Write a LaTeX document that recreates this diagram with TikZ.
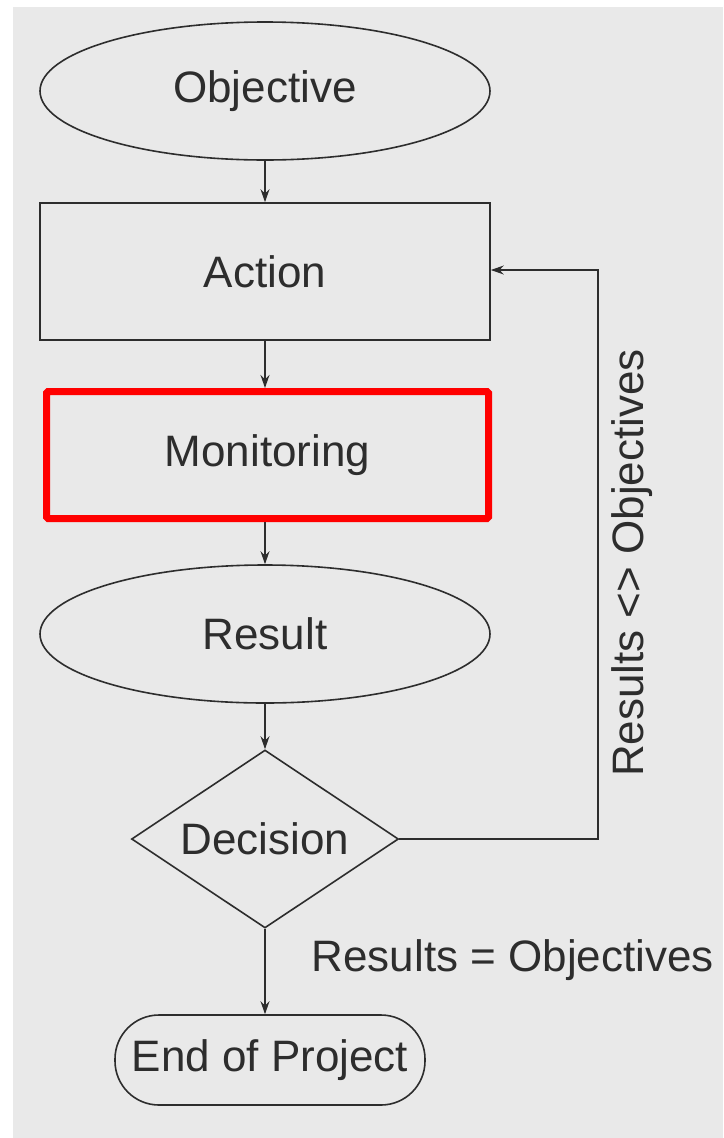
\documentclass[tikz,border=0pt]{standalone}
\usepackage{fontspec}
\setmainfont{Liberation Sans}
\usetikzlibrary{shapes.geometric,arrows.meta}
\definecolor{bggray}{RGB}{233,233,233}
\definecolor{ink}{RGB}{45,45,45}
\definecolor{hired}{RGB}{255,0,0}
\begin{document}
\begin{tikzpicture}[x=1pt,y=-1pt,
  every node/.style={font=\fontsize{44}{48}\selectfont, text=ink},
  shp/.style={draw=ink, line width=1.6pt, inner sep=0pt},
  oval/.style={shp, ellipse, minimum width=450pt, minimum height=138pt},
  boxnode/.style={shp, rectangle, minimum width=450pt, minimum height=137pt},
  hibox/.style={draw=hired, line width=7pt, rectangle, rounded corners=1.5pt, minimum width=442pt, minimum height=127pt, inner sep=0pt},
  decide/.style={shp, diamond, aspect=1.5, minimum width=267pt, minimum height=178pt},
  term/.style={shp, rectangle, rounded corners=44pt, minimum width=310pt, minimum height=90pt},
  conn/.style={draw=ink, line width=1.4pt, -{Stealth[length=13pt,width=9pt]}}]
\useasboundingbox (0,0) rectangle (723,1138);
\fill[white] (0,0) rectangle (723,1138);
\fill[bggray] (13,7) rectangle (723,1138);

\node[oval] (obj) at (265,91) {Objective};
\node[boxnode] (act) at (265,271.5) {Action};
\node[hibox] (mon) at (267.5,455) {Monitoring};
\node[oval] (res) at (265,634) {Result};
\node[decide] (dec) at (265,839) {Decision};
\node[term] (end) at (270,1060) {End of Project};

\coordinate (c1) at (598,839);
\coordinate (c2) at (598,270);

\draw[conn] (obj.south) -- (act.north);
\draw[conn] (act.south) -- (act.south |- mon.north);
\draw[conn] (res.north |- mon.south) -- (res.north);
\draw[conn] (res.south) -- (dec.north);
\draw[conn] (dec.south) -- (dec.south |- end.north);
\draw[conn] (dec.east) -- (c1) -- (c2) -- (act.east |- c2);

\node[rotate=90] (neq) at (632,563) {Results <> Objectives};
\node[anchor=west] (eq) at (308,960) {Results = Objectives};
\end{tikzpicture}
\end{document}
